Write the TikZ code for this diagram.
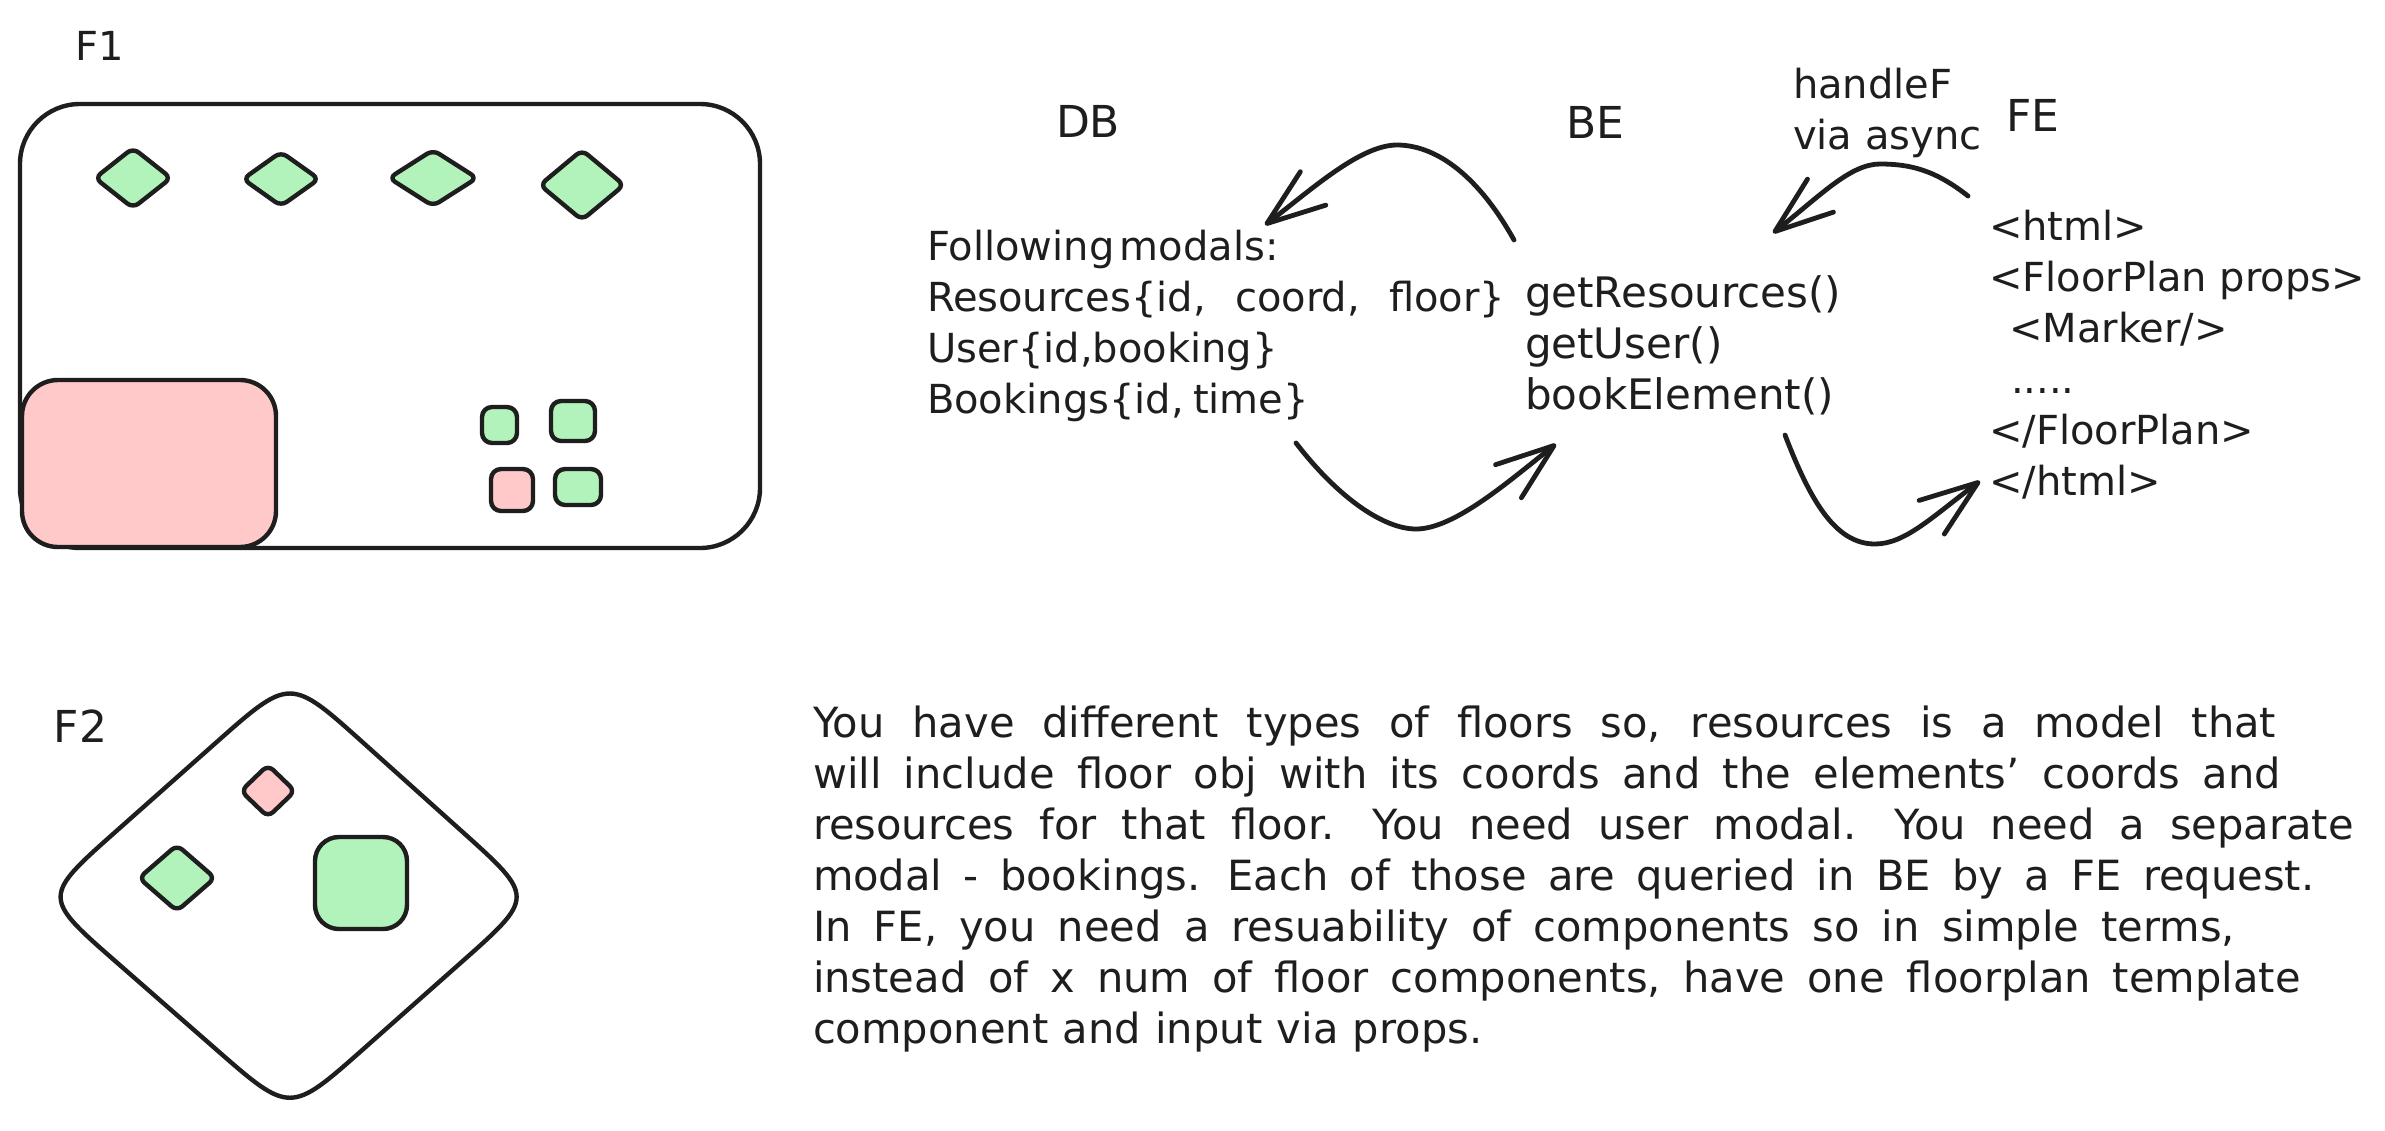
\documentclass[tikz,border=0pt]{standalone}
\usepackage{fontspec}
\setmainfont{DejaVu Sans}
\usetikzlibrary{arrows.meta,shapes.geometric,calc}
\definecolor{ink}{HTML}{1E1E1E}
\definecolor{gfill}{HTML}{B2F2BB}
\definecolor{pfill}{HTML}{FFC9C9}
\newcommand{\fitline}[2]{\hbox to #1pt{\spaceskip=.5em plus 1em minus .4em #2\unskip}}
\tikzset{
  shapeline/.style={draw=ink,line width=2.2pt,line join=round},
  outerbox/.style={shapeline,fill=white,rectangle,inner sep=0pt,outer sep=0pt,rounded corners=30pt},
  greenbox/.style={shapeline,fill=gfill,rectangle,inner sep=0pt,outer sep=0pt,rounded corners=5pt},
  pinkbox/.style={shapeline,fill=pfill,rectangle,inner sep=0pt,outer sep=0pt,rounded corners=5pt},
  greendia/.style={shapeline,fill=gfill,diamond,inner sep=0pt,outer sep=0pt,rounded corners=3.5pt},
  pinkdia/.style={shapeline,fill=pfill,diamond,inner sep=0pt,outer sep=0pt,rounded corners=3.5pt},
  hand/.style={inner sep=0pt,outer sep=0pt,text=ink,font=\fontsize{20}{25.5}\selectfont,anchor=base west,align=left},
  headtext/.style={hand,font=\fontsize{22}{25.5}\selectfont},
  betext/.style={hand,font=\fontsize{21}{25.5}\selectfont},
  bodytext/.style={hand,font=\fontsize{20.8}{25.5}\selectfont},
  flow/.style={draw=ink,line width=2.4pt,line cap=round,line join=round,
    -{Straight Barb[length=29pt,width=21pt,round]}}
}
\begin{document}
\begin{tikzpicture}[x=0.5pt,y=-0.5pt]
\useasboundingbox[fill=white] (0,0) rectangle (2385,1130);
% F1
\node[outerbox,minimum width=370pt,minimum height=222pt] (f1) at (390,326) {};
\node[pinkbox,minimum width=127pt,minimum height=83.5pt,rounded corners=18pt] (f1big) at (149,463.5) {};
\node[greendia,minimum width=38pt,minimum height=30pt] (d1) at (133,178) {};
\node[greendia,minimum width=38pt,minimum height=27pt] (d2) at (281,179) {};
\node[greendia,minimum width=44pt,minimum height=28pt] (d3) at (433,178) {};
\node[greendia,minimum width=42pt,minimum height=35pt] (d4) at (582,185) {};
\node[greenbox,minimum width=17.5pt,minimum height=18pt] (s1) at (499.5,425) {};
\node[greenbox,minimum width=22pt,minimum height=20pt] (s2) at (573,421) {};
\node[pinkbox,minimum width=21pt,minimum height=21pt] (s3) at (512,490) {};
\node[greenbox,minimum width=23pt,minimum height=18pt] (s4) at (578,487) {};
\node[hand] (lf1) at (75,60) {F1};
% F2
\coordinate (vt) at (290,677);
\coordinate (vr) at (535,897);
\coordinate (vb) at (290,1114);
\coordinate (vl) at (42,897);
\draw[shapeline,fill=white] ($(vt)!.3!(vr)$) -- ($(vr)!.3!(vt)$) .. controls (vr) and (vr) .. ($(vr)!.3!(vb)$)
  -- ($(vb)!.3!(vr)$) .. controls (vb) and (vb) .. ($(vb)!.3!(vl)$)
  -- ($(vl)!.3!(vb)$) .. controls (vl) and (vl) .. ($(vl)!.3!(vt)$)
  -- ($(vt)!.3!(vl)$) .. controls (vt) and (vt) .. cycle;
\node[pinkdia,minimum width=27pt,minimum height=26pt] (d5) at (268,791) {};
\node[greendia,minimum width=38pt,minimum height=33pt] (d6) at (177,878) {};
\node[greenbox,minimum width=46pt,minimum height=46pt,rounded corners=12pt] (s5) at (361,883) {};
\node[headtext] (lf2) at (54,742) {F2};
% headings
\node[headtext] (ldb) at (1056,137) {DB};
\node[headtext] (lbe) at (1566,138) {BE};
\node[headtext] (lfe) at (2006,131) {FE};
\node[hand] (lhandle) at (1793,149) {handleF\\via async};
% code blocks
\node[hand] (tdb) at (927,413) {\fitline{175.7}{Following modals:}\\\fitline{289}{Resources\{id, coord, floor\}}\\User\{id,booking\}\\\fitline{190.9}{Bookings\{id, time\}}};
\node[betext] (tbe) at (1525,409) {getResources()\\getUser()\\bookElement()};
\node[hand] (tfe) at (1989,495) {<html>\\<FloorPlan props>\\\hspace*{10pt}<Marker/>\\\hspace*{11pt}.....\\</FloorPlan>\\</html>};
% paragraph
\node[bodytext] (para) at (813,1043) {\fitline{731.6}{You have different types of floors so, resources is a model that}\\\fitline{733.9}{will include floor obj with its coords and the elements' coords and}\\\fitline{770.4}{resources for that floor. You need user modal. You need a separate}\\\fitline{750.6}{modal - bookings. Each of those are queried in BE by a FE request.}\\\fitline{711}{In FE, you need a resuability of components so in simple terms,}\\\fitline{743.8}{instead of x num of floor components, have one floorplan template}\\\fitline{334.6}{component and input via props.}};
% connectors
\coordinate (a1s) at (1514,240);
\coordinate (a1e) at (1265,225);
\coordinate (a2s) at (1296,443);
\coordinate (a2e) at (1556,444);
\coordinate (a3s) at (1785,435);
\coordinate (a3e) at (1980,481);
\coordinate (a4s) at (1968,196);
\coordinate (a4e) at (1773,233);
\draw[flow] (a1s) .. controls (1475,170) and (1432,145) .. (1397,145) .. controls (1360,145) and (1311,190) .. (a1e);
\draw[flow] (a2s) .. controls (1340,500) and (1385,529) .. (1416,529) .. controls (1455,529) and (1510,480) .. (a2e);
\draw[flow] (a3s) .. controls (1810,500) and (1835,544) .. (1875,544) .. controls (1905,544) and (1932,517) .. (a3e);
\draw[flow] (a4s) .. controls (1935,170) and (1910,164) .. (1880,164) .. controls (1850,164) and (1820,196) .. (a4e);
\end{tikzpicture}
\end{document}
